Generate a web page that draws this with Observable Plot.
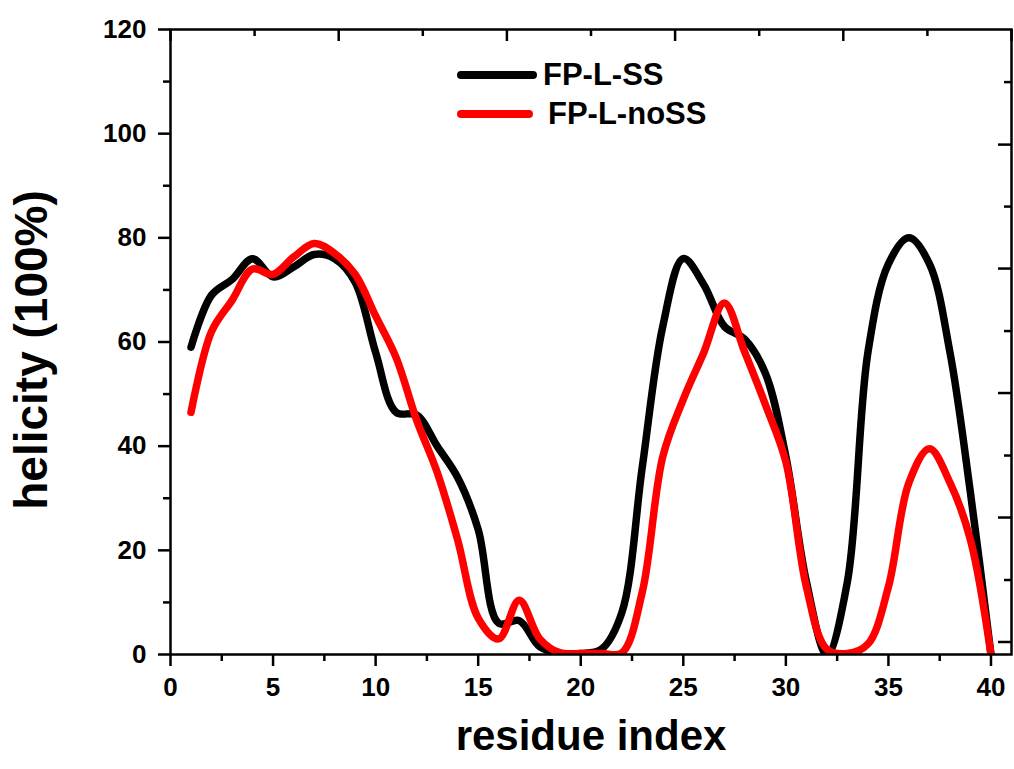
<!DOCTYPE html>
<html><head><meta charset="utf-8">
<script src="https://cdn.jsdelivr.net/npm/d3@7"></script>
<script src="https://cdn.jsdelivr.net/npm/@observablehq/plot@0.6"></script>
<style>
body{margin:0;background:#fff;font-family:"Liberation Sans",Arial,sans-serif;}
#wrap{position:relative;width:1014px;height:769px;}
#legend{position:absolute;left:457px;top:55px;font-weight:bold;font-size:31px;color:#000;}
.row{display:flex;align-items:center;height:39px;}
.sw{width:80px;height:8px;border-radius:4px;}
</style></head><body><div id="wrap"></div>
<script>
const residues = [1,2,3,4,5,6,7,8,9,10,11,12,13,14,15,16,17,18,19,20,21,22,23,24,25,26,27,28,29,30,31,32,33,34,35,36,37,38,39,40];
const ssValues = [59,69,72,76,72.5,74.4,76.8,76,71.5,58,46.5,46,40,34,24,6,6.5,1.5,0.2,0.2,1,8,36,63,76,71,63,60.5,54,38,14,0,14,58,75,80,75,58,31,0];
const nossValues = [46.5,62,68,74,73,76.3,78.9,77,73,65,57,45,35,22,7,3,10.4,3,0.3,0.2,0.2,0.3,12,38,49,58,67.5,58,48,37,13,1,0.2,2,13,33,39.5,33,22,0];
const seriesNames = ["FP-L-SS", "FP-L-noSS"];
const seriesColors = ["#000000", "#ff0000"];
const xMajor = [0,5,10,15,20,25,30,35,40];
const xMinor = [2.5,7.5,12.5,17.5,22.5,27.5,32.5,37.5];
const yMajor = [0,20,40,60,80,100,120];
const yMinor = [10,30,50,70,90,110];
const topMajor = [0,8.2,16.4,24.6,32.8,41];
const topMinor = [4.1,12.3,20.5,28.7,36.9];
const rightMajor = [2.4,26.3,50.2,74.1,97.9];
const rightMinor = [14.3,38.2,62.1,86.0,109.9];
const xTitle = "residue index";
const yTitle = "helicity (100%)";

const W = 1014, H = 769, mL = 170, mR = 3, mT = 29, mB = 115;
const plotW = W - mL - mR, plotH = H - mT - mB;
const font = "Liberation Sans, Arial, sans-serif";

const rows = residues.map((r, i) => ({r, ss: ssValues[i], noss: nossValues[i]}));

const chart = Plot.plot({
  width: W, height: H,
  marginLeft: mL, marginRight: mR, marginTop: mT, marginBottom: mB,
  x: {domain: [0, 41]},
  y: {domain: [0, 120]},
  style: {fontFamily: font, fontWeight: "bold", color: "#000", background: "#fff", overflow: "visible"},
  marks: [
    Plot.line(rows, {x: "r", y: "ss", stroke: seriesColors[0], strokeWidth: 7.5, curve: "catmull-rom", clip: true}),
    Plot.line(rows, {x: "r", y: "noss", stroke: seriesColors[1], strokeWidth: 7.5, curve: "catmull-rom", clip: true}),
    Plot.frame({strokeWidth: 2.5}),
    Plot.axisX({ticks: xMajor, tickSize: 12, tickPadding: 11, fontSize: 26, fontWeight: "bold", strokeWidth: 2.5, label: null, tickFormat: d => String(d)}),
    Plot.axisX({ticks: xMinor, tickSize: 7, strokeWidth: 2.5, label: null, tickFormat: () => ""}),
    Plot.axisY({ticks: yMajor, tickSize: 12, tickPadding: 12, fontSize: 26, fontWeight: "bold", strokeWidth: 2.5, label: null, tickFormat: d => String(d)}),
    Plot.axisY({ticks: yMinor, tickSize: 7, strokeWidth: 2.5, label: null, tickFormat: () => ""}),
    Plot.tickX(topMajor, {x: d => d, insetBottom: plotH - 12, strokeWidth: 2.5}),
    Plot.tickX(topMinor, {x: d => d, insetBottom: plotH - 7, strokeWidth: 2.5}),
    Plot.tickY(rightMajor, {y: d => d, insetLeft: plotW - 13, strokeWidth: 2.5}),
    Plot.tickY(rightMinor, {y: d => d, insetLeft: plotW - 7, strokeWidth: 2.5}),
    Plot.text([xTitle], {text: d => d, frameAnchor: "bottom", textAnchor: "middle", dy: 95, fontSize: 42, fontWeight: "bold"}),
    Plot.text([yTitle], {text: d => d, frameAnchor: "left", textAnchor: "middle", rotate: -90, dx: -138, dy: 8, fontSize: 46, fontWeight: "bold"})
  ]
});
const wrap = document.getElementById("wrap");
wrap.appendChild(chart);

const legend = document.createElement("div");
legend.id = "legend";
const gaps = [6, 15];
seriesNames.forEach((name, i) => {
  const row = document.createElement("div");
  row.className = "row";
  const sw = document.createElement("div");
  sw.className = "sw";
  sw.style.background = seriesColors[i];
  sw.style.width = (i === 0 ? 80 : 76) + "px";
  const t = document.createElement("span");
  t.textContent = name;
  t.style.marginLeft = gaps[i] + "px";
  row.appendChild(sw);
  row.appendChild(t);
  legend.appendChild(row);
});
wrap.appendChild(legend);
</script>
</body></html>
